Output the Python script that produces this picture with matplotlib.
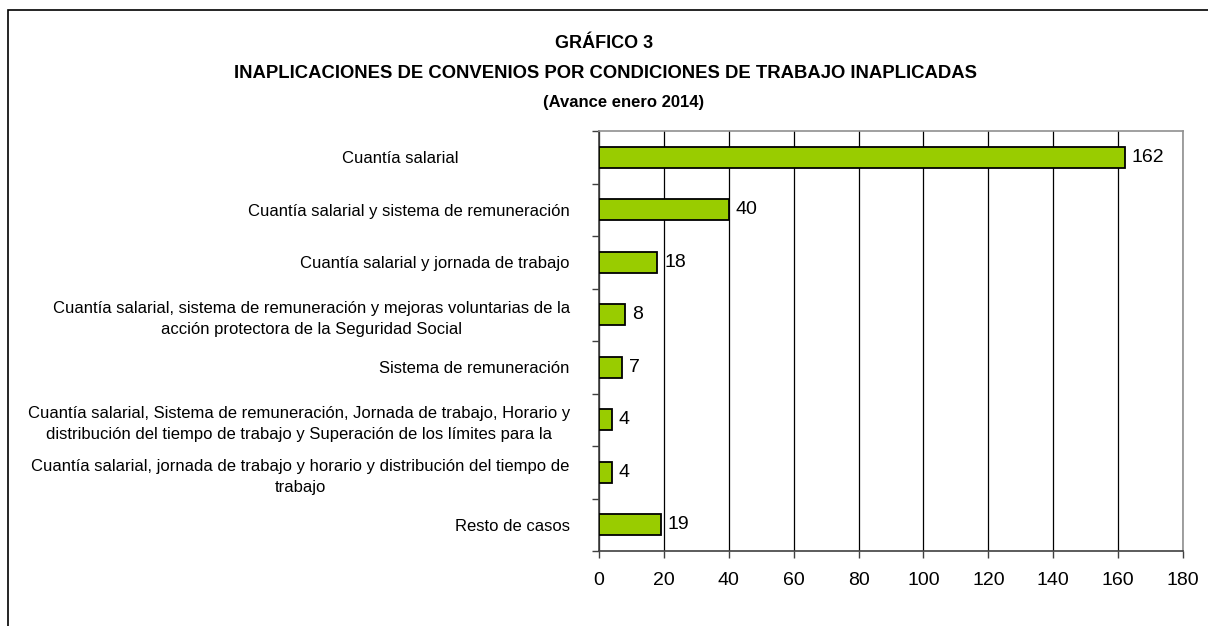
import matplotlib
matplotlib.use('Agg')
import matplotlib.pyplot as plt
from matplotlib.transforms import ScaledTranslation
from matplotlib.patches import Rectangle
import numpy as np

plt.rcParams['font.family'] = ['Liberation Sans', 'DejaVu Sans']

categories = [
    'Cuantía salarial',
    'Cuantía salarial y sistema de remuneración',
    'Cuantía salarial y jornada de trabajo',
    'Cuantía salarial, sistema de remuneración y mejoras voluntarias de la\nacción protectora de la Seguridad Social',
    'Sistema de remuneración',
    'Cuantía salarial, Sistema de remuneración, Jornada de trabajo, Horario y\ndistribución del tiempo de trabajo y Superación de los límites para la',
    'Cuantía salarial, jornada de trabajo y horario y distribución del tiempo de\ntrabajo',
    'Resto de casos',
]
values = [162, 40, 18, 8, 7, 4, 4, 19]
xticks = [0, 20, 40, 60, 80, 100, 120, 140, 160, 180]

BAR_COLOR = '#99cc00'


def draw_chart():
    fig = plt.figure(figsize=(12.08, 6.26), dpi=100)
    ax = fig.add_axes([599 / 1208, 1 - 551 / 626, 584 / 1208, 420 / 626])

    # frame around the whole chart (left and top visible)
    fig.patches.append(Rectangle((8 / 1208, -0.1), 1.2, 1 - 10 / 626 + 0.1,
                                 transform=fig.transFigure, fill=False,
                                 edgecolor='black', linewidth=1.2))

    y = np.arange(len(values))
    ax.barh(y, values, height=0.4, color=BAR_COLOR, edgecolor='black',
            linewidth=1.3, zorder=3)
    for yi, v in zip(y, values):
        ax.annotate(str(v), (v, yi), xytext=(5, 0), textcoords='offset points',
                    va='center', ha='left', fontsize=14)

    ax.set_xlim(0, 180)
    ax.set_ylim(len(values) - 0.5, -0.5)
    ax.set_xticks(xticks)
    ax.set_xticklabels([str(t) for t in xticks], fontsize=14)
    ax.tick_params(axis='x', direction='out', length=5, width=1,
                   color='#404040', pad=10)
    ax.grid(axis='x', color='black', linewidth=0.9, zorder=0)

    ax.set_yticks(y)
    ax.set_yticklabels(categories, fontsize=12, ma='center', linespacing=1.5)
    ax.set_yticks(np.arange(len(values) + 1) - 0.5, minor=True)
    ax.tick_params(axis='y', which='major', length=0, pad=21)
    ax.tick_params(axis='y', which='minor', direction='out', length=5,
                   width=1, color='#404040')

    # first label sits further left in the original
    lab0 = ax.get_yticklabels()[0]
    lab0.set_transform(lab0.get_transform() +
                       ScaledTranslation(-1.11, 0, fig.dpi_scale_trans))

    for side in ['top', 'right']:
        ax.spines[side].set_color('#909090')
        ax.spines[side].set_linewidth(1.2)
    for side in ['left', 'bottom']:
        ax.spines[side].set_color('#404040')
        ax.spines[side].set_linewidth(1.2)

    fig.text(604 / 1208, 1 - 44 / 626, 'GRÁFICO 3', ha='center', va='center',
             fontsize=13, fontweight='bold')
    fig.text(605 / 1208, 1 - 74 / 626,
             'INAPLICACIONES DE CONVENIOS POR CONDICIONES DE TRABAJO INAPLICADAS',
             ha='center', va='center', fontsize=13.3, fontweight='bold')
    fig.text(624 / 1208, 1 - 103 / 626, '(Avance enero 2014)', ha='center',
             va='center', fontsize=12, fontweight='bold')

    fig.savefig('out.png', dpi=100)


if __name__ == '__main__':
    draw_chart()
